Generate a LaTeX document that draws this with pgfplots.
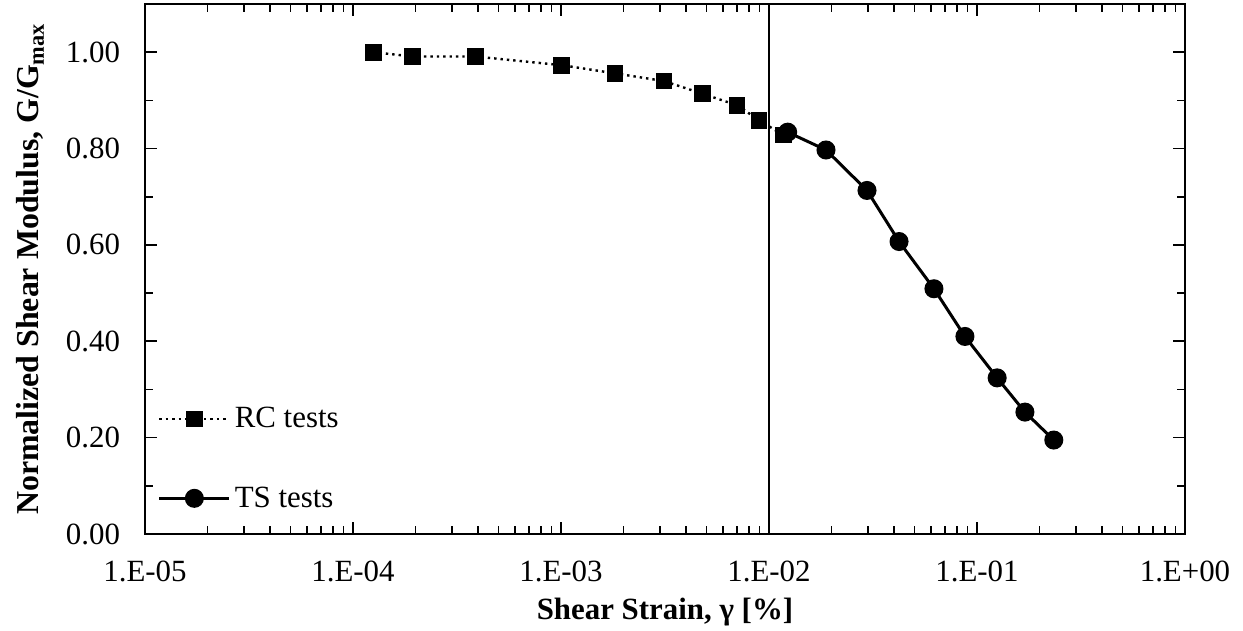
\documentclass[border=0pt]{standalone}
\usepackage{fontspec}
\setmainfont{Liberation Serif}
\usepackage{pgfplots}
\pgfplotsset{compat=1.18}
\begin{document}
\begin{tikzpicture}
\useasboundingbox (-72.5bp,-48.5bp) rectangle (549bp,267bp);
\begin{axis}[
  scale only axis, width=520bp, height=265bp,
  xmode=log, xmin=1e-5, xmax=1,
  ymin=0, ymax=1.1,
  xtick={1e-5,1e-4,1e-3,1e-2,1e-1,1},
  xticklabels={1.E-05,1.E-04,1.E-03,1.E-02,1.E-01,1.E+00},
  ytick={0,0.2,0.4,0.6,0.8,1.0},
  minor ytick={0.1,0.3,0.5,0.7,0.9},
  yticklabel style={/pgf/number format/.cd, fixed, fixed zerofill, precision=2},
  /pgf/number format/assume math mode=true,
  tick align=inside,
  major tick length=6bp, minor tick length=4bp,
  tick style={black, line width=0.8bp},
  axis line style={line width=1bp},
  font=\fontsize{15.5}{18}\selectfont,
  xticklabel shift=10bp,
  yticklabel shift=9bp,
  xlabel={\bfseries Shear Strain, γ [\%]},
  ylabel={\fontsize{16}{18}\selectfont\bfseries Normalized Shear Modulus, G/G\textsubscript{max}},
  xlabel style={yshift=-1bp},
  ylabel style={yshift=4bp},
  legend cell align=left,
  legend style={draw=none, fill=none, at={(axis description cs:0.012,0.255)}, anchor=north west,
    row sep=24bp, inner xsep=0pt, font=\fontsize{15.5}{18}\selectfont},
  legend image code/.code={\draw[mark repeat=2,mark phase=2] plot coordinates {(0bp,0bp) (17.5bp,0bp) (35bp,0bp)};},
  clip=false,
]
\addplot [black, line width=1.2bp, dotted, mark=square*, mark size=3.6bp, mark options={solid}] coordinates {
(1.25e-4,1.000) (1.94e-4,0.991) (3.87e-4,0.991) (1.01e-3,0.973) (1.82e-3,0.956)
(3.13e-3,0.940) (4.77e-3,0.914) (7.02e-3,0.890) (8.95e-3,0.859) (1.17e-2,0.828)};
\addlegendentry{RC tests}
\addplot [black, line width=1.5bp, mark=*, mark size=4bp] coordinates {
(1.23e-2,0.834) (1.88e-2,0.797) (2.96e-2,0.713) (4.22e-2,0.607) (6.21e-2,0.509)
(8.75e-2,0.410) (0.125,0.324) (0.170,0.253) (0.234,0.195)};
\addlegendentry{TS tests}
\addplot [black, line width=1bp, forget plot] coordinates {(1e-2,0) (1e-2,1.1)};
\end{axis}
\end{tikzpicture}
\end{document}
